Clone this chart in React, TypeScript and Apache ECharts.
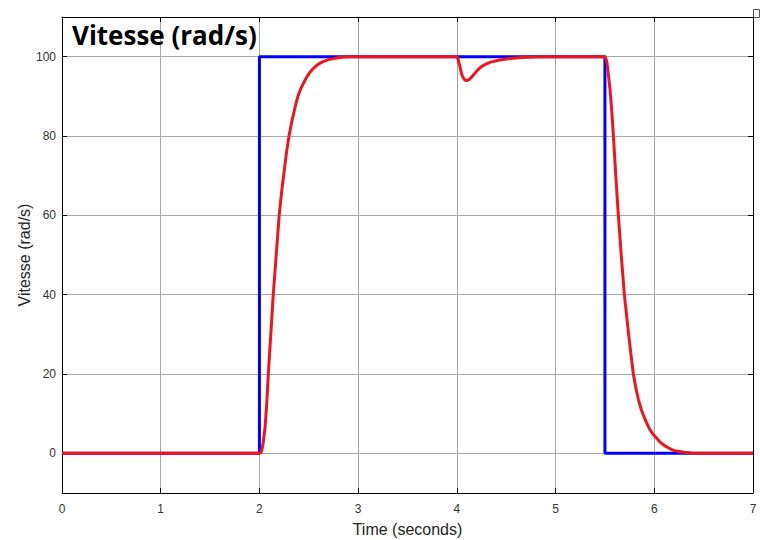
import React, { useEffect, useRef } from "react";
import * as echarts from "echarts";

const commandT = [0, 2, 2, 5.5, 5.5, 7];
const commandV = [0, 0, 100, 100, 0, 0];

const speedT = [
  0, 2.0, 2.01, 2.02, 2.03, 2.04, 2.057, 2.075, 2.09, 2.115, 2.14, 2.17, 2.2, 2.225, 2.25, 2.275, 2.3,
  2.325, 2.35, 2.37, 2.39, 2.42, 2.45, 2.48, 2.51, 2.545, 2.58, 2.615, 2.65, 2.7, 2.75, 2.8, 2.85, 2.92,
  3.0, 4.0, 4.005, 4.01, 4.02, 4.03, 4.04, 4.05, 4.062, 4.075, 4.087, 4.1, 4.12, 4.14, 4.165, 4.19,
  4.21, 4.235, 4.265, 4.3, 4.335, 4.37, 4.42, 4.47, 4.52, 4.57, 4.63, 4.7, 4.77, 4.84, 5.5, 5.505,
  5.51, 5.52, 5.53, 5.54, 5.552, 5.56, 5.57, 5.578, 5.586, 5.61, 5.636, 5.665, 5.697, 5.74, 5.765,
  5.788, 5.815, 5.84, 5.865, 5.89, 5.92, 5.95, 5.985, 6.025, 6.06, 6.1, 6.145, 6.19, 6.24, 6.3, 6.38,
  6.46, 7.0,
];
const speedV = [
  0, 0, 0.1, 0.5, 1.5, 3, 6.5, 13, 20, 30, 40, 50, 60, 66, 71, 76, 80,
  83.3, 86, 88.2, 90, 92, 93.5, 94.9, 96, 97, 97.8, 98.4, 98.8, 99.25, 99.5, 99.75, 99.9, 99.97,
  100, 100, 99.9, 99.5, 98.6, 97.6, 96.5, 95.5, 94.8, 94.3, 94.05, 94.0, 94.15, 94.6, 95.3, 96.0,
  96.6, 97.2, 97.75, 98.2, 98.55, 98.8, 99.1, 99.3, 99.47, 99.6, 99.75, 99.85, 99.94, 100, 100, 99.9,
  99.5, 98.6, 96.5, 94.3, 91.7, 89.2, 86, 83, 80, 70, 60, 50, 40, 30, 24.7,
  20, 16.3, 13.5, 11.3, 9.6, 7.8, 6.2, 4.9, 3.8, 2.8, 2, 1.35, 0.8, 0.5, 0.3, 0.1,
  0, 0,
];

const xTicks = [0, 1, 2, 3, 4, 5, 6, 7];
const yTicks = [0, 20, 40, 60, 80, 100];

const titleText = "Vitesse (rad/s)";
const xName = "Time (seconds)";
const yName = "Vitesse (rad/s)";

export default function App() {
  const ref = useRef<HTMLDivElement>(null);
  useEffect(() => {
    if (!ref.current) return;
    const chart = echarts.init(ref.current, undefined, { renderer: "svg" });
    const labelFont = "Liberation Sans";
    const gridColor = "#a8a8a8";
    chart.setOption({
      animation: false,
      backgroundColor: "#ffffff",
      title: {
        text: titleText,
        left: 67,
        top: 17,
        textStyle: {
          fontFamily: "Open Sans",
          fontWeight: "bold",
          fontSize: 26,
          color: "#000000",
        },
      },
      grid: {
        left: 62,
        right: 7,
        top: 17,
        bottom: 47,
        show: false,
        outerBoundsMode: "none",
      },
      xAxis: [
        {
          type: "value",
          min: 0,
          max: 7,
          interval: 1,
          name: xName,
          nameLocation: "middle",
          nameGap: 28,
          nameMoveOverlap: false,
          nameTextStyle: { fontFamily: labelFont, fontSize: 16, color: "#262626" },
          axisLine: { show: true, onZero: false, lineStyle: { color: "#000", width: 1 } },
          axisTick: { show: true, inside: true, length: 5, lineStyle: { color: "#000" } },
          axisLabel: {
            fontFamily: labelFont,
            fontSize: 12,
            color: "#333",
            margin: 10,
            formatter: (v: number) => (xTicks.includes(v) ? String(v) : ""),
          },
          splitLine: { show: true, lineStyle: { color: gridColor, width: 1 } },
        },
        {
          type: "value",
          position: "top",
          min: 0,
          max: 7,
          interval: 1,
          axisLine: { show: true, onZero: false, lineStyle: { color: "#000", width: 1 } },
          axisTick: { show: true, inside: true, length: 5, lineStyle: { color: "#000" } },
          axisLabel: { show: false },
          splitLine: { show: false },
        },
      ],
      yAxis: [
        {
          type: "value",
          min: -10,
          max: 110,
          splitNumber: 6,
          name: yName,
          nameLocation: "middle",
          nameGap: 30,
          nameMoveOverlap: false,
          nameTextStyle: { fontFamily: labelFont, fontSize: 16, color: "#262626" },
          axisLine: { show: true, onZero: false, lineStyle: { color: "#000", width: 1 } },
          axisTick: { show: true, inside: true, length: 5, lineStyle: { color: "#000" } },
          axisLabel: {
            fontFamily: labelFont,
            fontSize: 12,
            color: "#333",
            margin: 6,
            showMinLabel: false,
            showMaxLabel: false,
            formatter: (v: number) => (yTicks.includes(v) ? String(v) : ""),
          },
          splitLine: { show: true, lineStyle: { color: gridColor, width: 1 } },
        },
        {
          type: "value",
          position: "right",
          min: -10,
          max: 110,
          splitNumber: 6,
          axisLine: { show: true, onZero: false, lineStyle: { color: "#000", width: 1 } },
          axisTick: { show: true, inside: true, length: 5, lineStyle: { color: "#000" } },
          axisLabel: { show: false },
          splitLine: { show: false },
        },
      ],
      graphic: [
        {
          type: "rect",
          right: 0,
          top: 9,
          shape: { width: 6, height: 8 },
          style: { fill: "#fff", stroke: "#555", lineWidth: 1 },
        },
      ],
      series: [
        {
          type: "line",
          name: "consigne",
          data: commandT.map((t, i) => [t, commandV[i]]),
          showSymbol: false,
          lineStyle: { color: "#0000ff", width: 3 },
          z: 2,
        },
        {
          type: "line",
          name: "vitesse",
          data: speedT.map((t, i) => [t, speedV[i]]),
          showSymbol: false,
          smooth: false,
          lineStyle: { color: "#f0141e", width: 3, join: "round" },
          z: 3,
        },
      ],
    });
    return () => chart.dispose();
  }, []);
  return (
    <div
      ref={ref}
      style={{ position: "fixed", left: 0, top: 0, width: 760, height: 540 }}
    />
  );
}
